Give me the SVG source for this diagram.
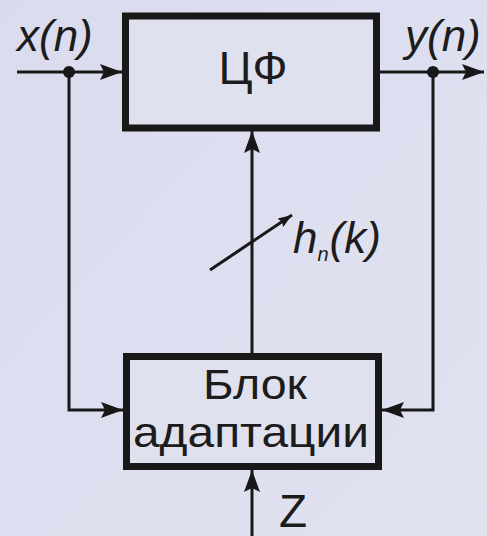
<svg xmlns="http://www.w3.org/2000/svg" width="487" height="536" viewBox="0 0 487 536">
  <style>
    .box { fill: #e0e1ef; stroke: #181818; stroke-width: 7; }
    .wire { fill: none; stroke: #181818; stroke-width: 3; }
    .lbl { font-family: "Liberation Sans", Arial, sans-serif; fill: #1c1c1c; }
    .it { font-style: italic; }
  </style>
  <defs>
    <linearGradient id="bg" x1="0" y1="0" x2="1" y2="1">
      <stop offset="0" stop-color="#dadbee"/>
      <stop offset="1" stop-color="#e1e2f0"/>
    </linearGradient>
    <marker id="ah" markerUnits="userSpaceOnUse" markerWidth="24" markerHeight="16" refX="22" refY="8" orient="auto">
      <path d="M0,0 L22,8 L0,16 L4,8 z" fill="#181818"/>
    </marker>
    <marker id="ahs" markerUnits="userSpaceOnUse" markerWidth="16" markerHeight="12" refX="14" refY="5" orient="auto">
      <path d="M0,0 L14,5 L0,10 L2,5 z" fill="#181818"/>
    </marker>
  </defs>
  <rect x="0" y="0" width="487" height="536" fill="url(#bg)"/>

  <g id="connectors">
    <line class="wire" x1="17" y1="72" x2="122" y2="72" marker-end="url(#ah)"/>
    <polyline class="wire" points="69,72 69,410 123,410" marker-end="url(#ah)"/>
    <line class="wire" x1="379" y1="72" x2="484" y2="72" marker-end="url(#ah)"/>
    <polyline class="wire" points="433,72 433,410 382,410" marker-end="url(#ah)"/>
    <line class="wire" x1="252" y1="353" x2="252" y2="131" marker-end="url(#ah)"/>
    <line class="wire" x1="252" y1="536" x2="252" y2="470" marker-end="url(#ah)"/>
    <line class="wire" x1="210" y1="270" x2="292" y2="215" stroke-width="2.5" marker-end="url(#ahs)"/>
    <circle cx="69" cy="72" r="6" fill="#181818"/>
    <circle cx="433" cy="72" r="6" fill="#181818"/>
  </g>

  <g id="filter">
    <rect class="box" x="125.5" y="16" width="251" height="112"/>
    <text class="lbl" x="253" y="84" font-size="46" text-anchor="middle">ЦФ</text>
  </g>

  <g id="adapt">
    <rect class="box" x="126.5" y="356.5" width="252" height="110"/>
    <text class="lbl" x="255" y="399" font-size="42" text-anchor="middle" textLength="104" lengthAdjust="spacingAndGlyphs">Блок</text>
    <text class="lbl" x="251" y="447" font-size="42" text-anchor="middle" textLength="236" lengthAdjust="spacingAndGlyphs">адаптации</text>
  </g>

  <g id="labels">
    <text class="lbl it" x="17" y="51" font-size="44">x(n)</text>
    <text class="lbl it" x="405" y="51" font-size="44">y(n)</text>
    <text class="lbl it" x="293" y="253" font-size="44">h<tspan font-size="20" dy="8">n</tspan><tspan dy="-8" dx="1">(k)</tspan></text>
    <text class="lbl" x="279" y="527" font-size="46">Z</text>
  </g>
</svg>
